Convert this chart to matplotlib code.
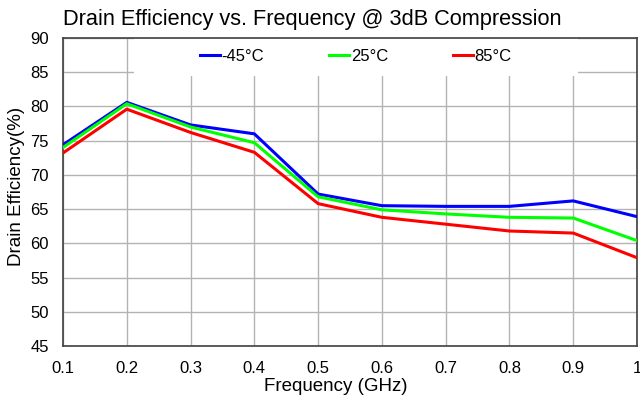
import numpy as np
import matplotlib
matplotlib.use("Agg")
import matplotlib.pyplot as plt
from matplotlib.patches import Rectangle

plt.rcParams['font.family'] = ['Liberation Sans', 'DejaVu Sans']

# Dados
freq = [0.1, 0.2, 0.3, 0.4, 0.5, 0.6, 0.7, 0.8, 0.9, 1.0]
eff_m45 = [74.4, 80.6, 77.3, 76.0, 67.2, 65.5, 65.4, 65.4, 66.2, 63.9]
eff_25 = [74.0, 80.4, 77.0, 74.7, 66.8, 64.9, 64.3, 63.8, 63.7, 60.4]
eff_85 = [73.2, 79.6, 76.2, 73.3, 65.8, 63.8, 62.8, 61.8, 61.5, 57.9]
labels = ['-45°C', '25°C', '85°C']
colors = ['#0000ff', '#00ff00', '#ff0000']
xtick_labels = ['0.1', '0.2', '0.3', '0.4', '0.5', '0.6', '0.7', '0.8', '0.9', '1']

fig, ax = plt.subplots(figsize=(6.4, 4), dpi=100)
fig.subplots_adjust(left=63/640, right=637/640, top=1-38/400, bottom=1-346/400)

for y, lab, c in zip([eff_m45, eff_25, eff_85], labels, colors):
    ax.plot(freq, y, color=c, lw=2.2, label=lab, zorder=3)

ax.set_xlim(0.1, 1.0)
ax.set_ylim(45, 90)
ax.set_xticks(freq)
ax.set_xticklabels(xtick_labels)
ax.set_yticks(np.arange(45, 91, 5))
ax.grid(True, color='#b3b3b3', lw=1.0)
ax.tick_params(length=0, labelsize=12)
ax.tick_params(axis='x', pad=11)
ax.tick_params(axis='y', pad=10)
for s in ax.spines.values():
    s.set_color('#404040')
    s.set_linewidth(1.2)

ax.set_title('Drain Efficiency vs. Frequency @ 3dB Compression', fontsize=15.7,
             loc='left', pad=9)
ax.set_xlabel('Frequency (GHz)', fontsize=13.5, labelpad=1)
ax.set_ylabel('Drain Efficiency(%)', fontsize=13.5, labelpad=4)
ax.xaxis.label.set_x(0.476)
ax.yaxis.label.set_y(0.519)

# fundo branco da legenda (cobre a grade)
ax.add_patch(Rectangle((0.124, 0.877), 0.773, 0.123, transform=ax.transAxes,
                       facecolor='white', edgecolor='none', zorder=2))

leg = ax.legend(loc='upper center', bbox_to_anchor=(0.51, 1.0), ncol=3,
                frameon=False, fontsize=12,
                handlelength=1.2, handletextpad=0.1, columnspacing=3.9,
                borderaxespad=0.0, borderpad=0.65)
leg.set_zorder(5)

fig.savefig('out.png', dpi=100)
